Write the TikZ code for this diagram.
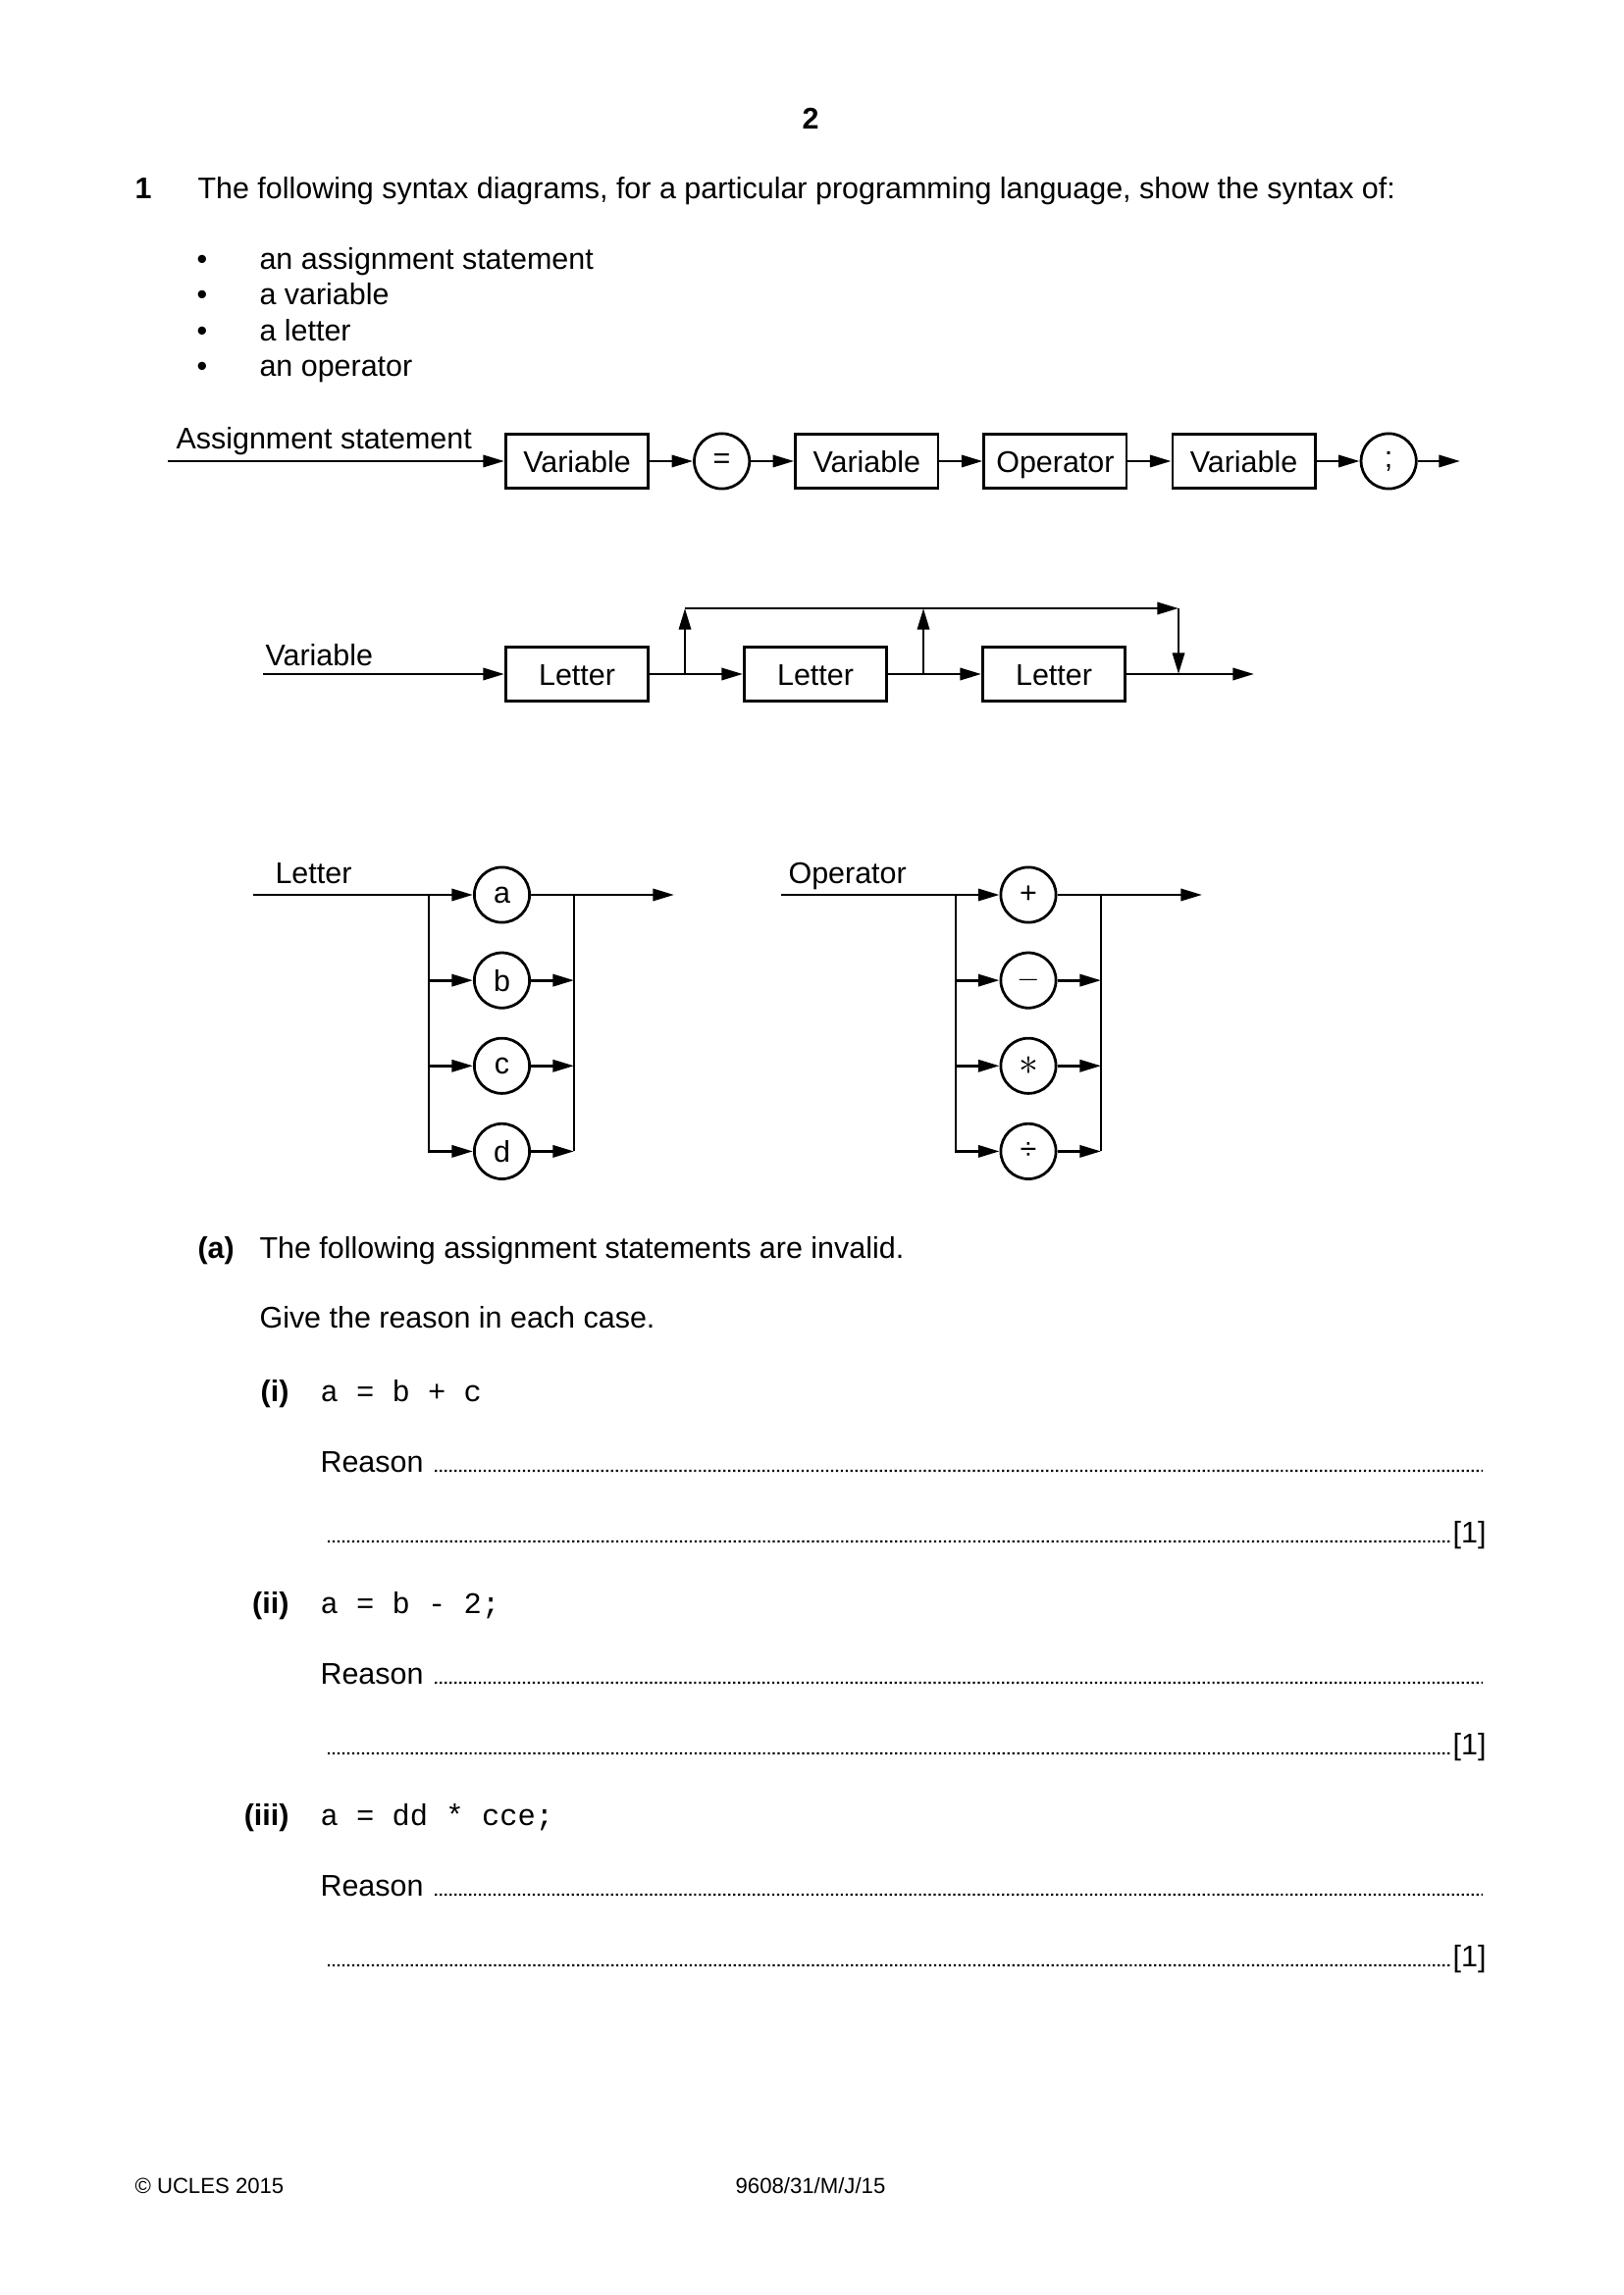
\documentclass[tikz,border=0pt]{standalone}
\usepackage{fontspec}
\setmainfont{Liberation Sans}
\setmonofont{Liberation Mono}
\usetikzlibrary{arrows.meta,positioning}
\tikzset{>={Triangle[length=7.8pt,width=4.4pt]}}
\newcommand{\code}[1]{\texttt{#1}}

\begin{document}
\begin{tikzpicture}[x=0.012697cm, y=-0.012697cm, font=\fontsize{11}{13}\selectfont,
    syntaxbox/.style={draw, line width=1pt, minimum width=1.844cm, minimum height=0.70cm,
                      inner sep=0pt, text height=8pt, text depth=0pt},
    terminal/.style={draw, circle, line width=1pt, minimum size=0.714cm, inner sep=0pt},
    flow/.style={->, line width=1pt},
    wire/.style={line width=1pt},
    txt/.style={anchor=base west, inner sep=0pt},
    qnum/.style={anchor=base east, inner sep=0pt, font=\fontsize{11}{13}\selectfont\bfseries},
    answerline/.style={line width=0.8pt, dash pattern=on 0.8pt off 1pt}]
    \fill[white] (0,0) rectangle (1654,2339);
    \useasboundingbox (0,0) rectangle (1654,2339);

    % heading and question
    \node[anchor=base, inner sep=0pt, font=\fontsize{11}{13}\selectfont\bfseries] (pagenum) at (826,132) {2};
    \node[txt, font=\fontsize{11}{13}\selectfont\bfseries] (qone) at (137,203) {1};
    \node[txt] (intro) at (201,203) {The following syntax diagrams, for a particular programming language, show the syntax of:};
    \node[anchor=base, inner sep=0pt] (bul1) at (206,275) {\textbullet};
    \node[txt] (item1) at (264,275) {an assignment statement};
    \node[anchor=base, inner sep=0pt] (bul2) at (206,311) {\textbullet};
    \node[txt] (item2) at (264,311) {a variable};
    \node[anchor=base, inner sep=0pt] (bul3) at (206,348) {\textbullet};
    \node[txt] (item3) at (264,348) {a letter};
    \node[anchor=base, inner sep=0pt] (bul4) at (206,384) {\textbullet};
    \node[txt] (item4) at (264,384) {an operator};

    % assignment statement
    \node[txt] (asglabel) at (179,458) {Assignment statement};
    \coordinate (asgin) at (171,470);
    \node[syntaxbox] (asgvar1) at (588,470) {Variable};
    \node[terminal] (asgeq) [right=0.56cm of asgvar1] {=};
    \node[syntaxbox] (asgvar2) [right=0.56cm of asgeq] {Variable};
    \node[syntaxbox] (asgop) [right=0.56cm of asgvar2] {Operator};
    \node[syntaxbox] (asgvar3) [right=0.56cm of asgop] {Variable};
    \node[terminal] (asgsemi) [right=0.56cm of asgvar3] {;};
    \coordinate (asgout) at (1488,470);
    \draw[flow] (asgin) -- (asgvar1);
    \draw[flow] (asgvar1) -- (asgeq);
    \draw[flow] (asgeq) -- (asgvar2);
    \draw[flow] (asgvar2) -- (asgop);
    \draw[flow] (asgop) -- (asgvar3);
    \draw[flow] (asgvar3) -- (asgsemi);
    \draw[flow] (asgsemi) -- (asgout);

    % variable
    \node[txt] (varlabel) at (270,679) {Variable};
    \coordinate (varin) at (268,687);
    \node[syntaxbox] (varlet1) at (588,687) {Letter};
    \node[syntaxbox] (varlet2) [right=1.206cm of varlet1] {Letter};
    \node[syntaxbox] (varlet3) [right=1.206cm of varlet2] {Letter};
    \coordinate (varout) at (1278,687);
    \coordinate (varfork1) at (698,687);
    \coordinate (varfork2) at (941,687);
    \coordinate (varjoin) at (1201,687);
    \coordinate (vartop1) at (698,620);
    \coordinate (vartop2) at (941,620);
    \coordinate (vartop3) at (1201,620);
    \draw[flow] (varin) -- (varlet1);
    \draw[flow] (varlet1) -- (varlet2);
    \draw[flow] (varlet2) -- (varlet3);
    \draw[flow] (varlet3) -- (varout);
    \draw[flow] (varfork1) -- (vartop1);
    \draw[flow] (varfork2) -- (vartop2);
    \draw[flow] (vartop1) -- (vartop3);
    \draw[flow] (vartop3) -- (varjoin);

    % letter
    \node[txt] (letlabel) at (280,900) {Letter};
    \coordinate (letin) at (258,912);
    \node[terminal] (leta) at (511.5,912) {a};
    \node[terminal] (letb) [below=0.357cm of leta] {b};
    \node[terminal] (letc) [below=0.357cm of letb] {c};
    \node[terminal] (letd) [below=0.357cm of letc] {d};
    \coordinate (letsplit) at (437,912);
    \coordinate (letjoin) at (585,912);
    \coordinate (letout) at (687,912);
    \draw[flow] (letin) -- (leta);
    \draw[flow] (leta) -- (letout);
    \draw[flow] (letsplit) |- (letb);
    \draw[flow] (letsplit) |- (letc);
    \draw[flow] (letsplit) |- (letd);
    \draw[flow] (letb) -- (letb -| letjoin);
    \draw[flow] (letc) -- (letc -| letjoin);
    \draw[flow] (letd) -- (letd -| letjoin);
    \draw[wire] (letjoin) -- (letjoin |- letd);

    % operator
    \node[txt] (oplabel) at (803,900) {Operator};
    \coordinate (opin) at (796,912);
    \node[terminal] (opplus) at (1048,912) {+};
    \node[terminal] (opminus) [below=0.357cm of opplus] {$-$};
    \node[terminal] (optimes) [below=0.357cm of opminus] {\fontsize{14}{14}\selectfont$\ast$};
    \node[terminal] (opdiv) [below=0.357cm of optimes] {÷};
    \coordinate (opsplit) at (974,912);
    \coordinate (opjoin) at (1122,912);
    \coordinate (opout) at (1225,912);
    \draw[flow] (opin) -- (opplus);
    \draw[flow] (opplus) -- (opout);
    \draw[flow] (opsplit) |- (opminus);
    \draw[flow] (opsplit) |- (optimes);
    \draw[flow] (opsplit) |- (opdiv);
    \draw[flow] (opminus) -- (opminus -| opjoin);
    \draw[flow] (optimes) -- (optimes -| opjoin);
    \draw[flow] (opdiv) -- (opdiv -| opjoin);
    \draw[wire] (opjoin) -- (opjoin |- opdiv);

    % part (a)
    \node[txt, font=\fontsize{11}{13}\selectfont\bfseries] (parta) at (201,1282) {(a)};
    \node[txt] (partatext) at (264,1282) {The following assignment statements are invalid.};
    \node[txt] (giverule) at (264,1353) {Give the reason in each case.};

    \node[qnum] (parti) at (295,1428) {(i)};
    \node[txt] (codei) at (326,1428) {\code{a = b + c}};
    \node[txt] (reasoni) at (326,1500) {Reason};
    \coordinate (endi) at (1511,1499);
    \draw[answerline] ([xshift=4pt,yshift=0.4pt]reasoni.base east) -- (endi);
    \node[anchor=base east, inner sep=0pt] (marki) at (1515,1572) {[1]};
    \coordinate (starti) at (334,1571);
    \draw[answerline] (starti) -- ([xshift=-1pt,yshift=0.4pt]marki.base west);

    \node[qnum] (partii) at (295,1644) {(ii)};
    \node[txt] (codeii) at (326,1644) {\code{a = b - 2;}};
    \node[txt] (reasonii) at (326,1716) {Reason};
    \coordinate (endii) at (1511,1715);
    \draw[answerline] ([xshift=4pt,yshift=0.4pt]reasonii.base east) -- (endii);
    \node[anchor=base east, inner sep=0pt] (markii) at (1515,1788) {[1]};
    \coordinate (startii) at (334,1787);
    \draw[answerline] (startii) -- ([xshift=-1pt,yshift=0.4pt]markii.base west);

    \node[qnum] (partiii) at (295,1860) {(iii)};
    \node[txt] (codeiii) at (326,1860) {\code{a = dd * cce;}};
    \node[txt] (reasoniii) at (326,1932) {Reason};
    \coordinate (endiii) at (1511,1931);
    \draw[answerline] ([xshift=4pt,yshift=0.4pt]reasoniii.base east) -- (endiii);
    \node[anchor=base east, inner sep=0pt] (markiii) at (1515,2004) {[1]};
    \coordinate (startiii) at (334,2003);
    \draw[answerline] (startiii) -- ([xshift=-1pt,yshift=0.4pt]markiii.base west);

    % footer
    \node[txt, font=\fontsize{8}{10}\selectfont] (copyr) at (137,2235) {© UCLES 2015};
    \node[anchor=base, inner sep=0pt, font=\fontsize{8}{10}\selectfont] (paperref) at (826,2235) {9608/31/M/J/15};
\end{tikzpicture}
\end{document}
